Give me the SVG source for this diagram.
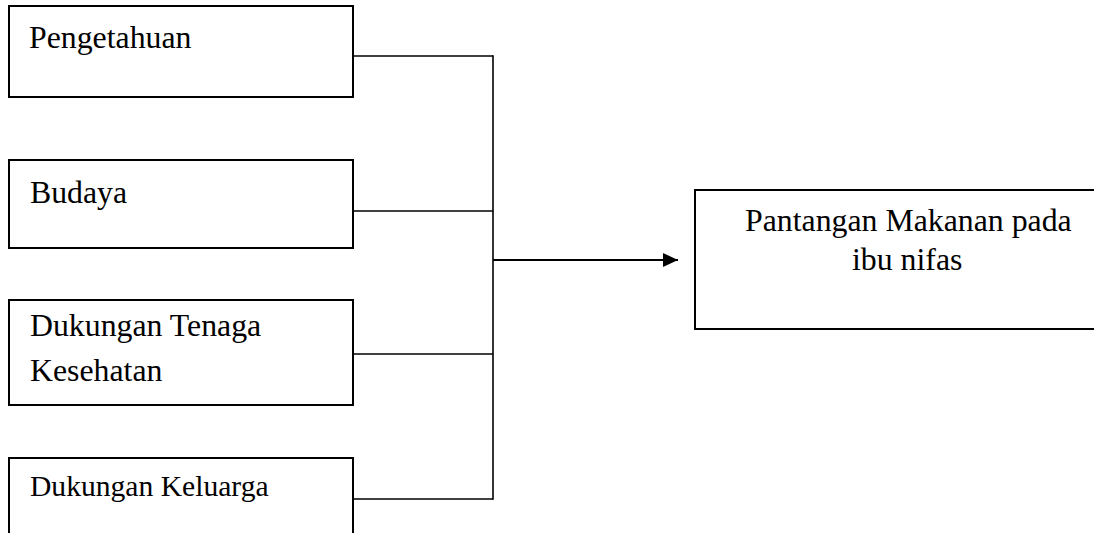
<svg xmlns="http://www.w3.org/2000/svg" width="1094" height="533" viewBox="0 0 1094 533">
  <style>
    .box { fill: #ffffff; stroke: #000000; stroke-width: 2; }
    .wire { fill: none; stroke: #000000; stroke-width: 1.6; }
    .flow { stroke-width: 2.2; }
    .lbl { font-family: "Liberation Serif", "Times New Roman", serif; font-size: 31.8px; fill: #000000; }
    .lbl-sm { font-size: 29.6px; }
  </style>
  <defs>
    <marker id="arrowhead" markerUnits="userSpaceOnUse" markerWidth="16" markerHeight="16" refX="15" refY="7" orient="auto">
      <path d="M0,0 L15,7 L0,14 Z" fill="#000000"/>
    </marker>
  </defs>
  <rect width="1094" height="533" fill="#ffffff"/>

  <!-- connectors: each factor joins a shared bus that feeds the outcome -->
  <g id="connectors">
    <line class="wire" x1="353" y1="56" x2="493" y2="56"/>
    <line class="wire" x1="353" y1="211" x2="493" y2="211"/>
    <line class="wire" x1="353" y1="354" x2="493" y2="354"/>
    <line class="wire" x1="353" y1="499" x2="493" y2="499"/>
    <line class="wire" x1="493" y1="55.2" x2="493" y2="499.8"/>
    <line class="wire flow" x1="493" y1="260" x2="678" y2="260" marker-end="url(#arrowhead)"/>
  </g>

  <g id="node-pengetahuan">
    <rect class="box" x="9" y="6" width="344" height="91"/>
    <text class="lbl" x="29" y="48">Pengetahuan</text>
  </g>

  <g id="node-budaya">
    <rect class="box" x="9" y="160" width="344" height="88"/>
    <text class="lbl" x="30" y="203">Budaya</text>
  </g>

  <g id="node-dukungan-tenaga">
    <rect class="box" x="9" y="300" width="344" height="105"/>
    <text class="lbl" x="30" y="336">Dukungan Tenaga</text>
    <text class="lbl" x="30" y="381">Kesehatan</text>
  </g>

  <g id="node-dukungan-keluarga">
    <rect class="box" x="9" y="458" width="344" height="90"/>
    <text class="lbl lbl-sm" x="30" y="496">Dukungan Keluarga</text>
  </g>

  <g id="node-pantangan">
    <rect class="box" x="695" y="190" width="410" height="139"/>
    <text class="lbl" x="745" y="231">Pantangan Makanan pada</text>
    <text class="lbl" x="852" y="270">ibu nifas</text>
  </g>
</svg>
